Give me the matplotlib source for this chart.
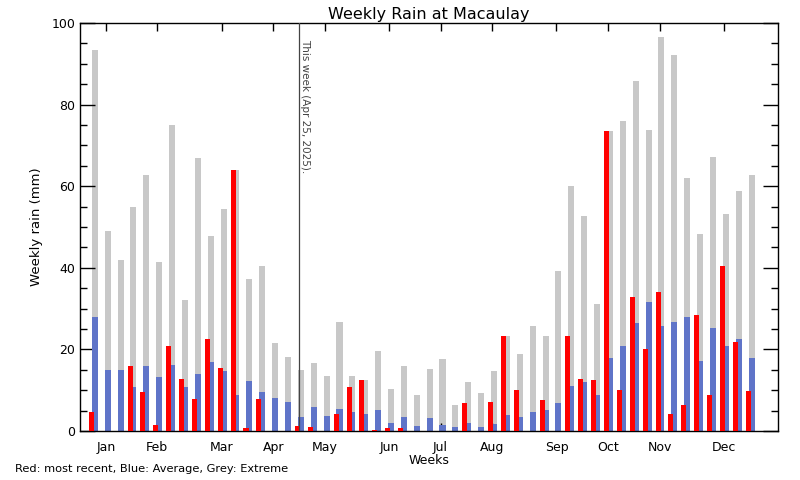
import numpy as np
import matplotlib
matplotlib.use("Agg")
import matplotlib.pyplot as plt

# --- Data ---
weeks = np.arange(1, 53)

extreme = [93.5, 49.1, 41.9, 54.9, 62.8, 41.5, 75.1, 32.1, 67.0, 47.8,
           54.5, 64.0, 37.3, 40.5, 21.6, 18.2, 15.0, 16.7, 13.5, 26.7,
           13.5, 12.5, 19.6, 10.3, 15.9, 8.8, 15.2, 17.7, 6.4, 12.0,
           9.3, 14.7, 23.3, 18.9, 25.8, 23.3, 39.2, 60.1, 52.7, 31.2,
           73.6, 76.0, 85.9, 73.8, 96.6, 92.2, 62.1, 48.3, 67.2, 53.2,
           58.9, 62.8]

average = [28.0, 15.0, 15.0, 10.8, 15.9, 13.2, 16.2, 10.8, 14.0, 16.9,
           14.7, 8.8, 12.3, 9.6, 8.1, 7.1, 3.4, 5.9, 3.7, 5.4,
           4.7, 4.2, 5.2, 2.0, 3.4, 1.2, 3.2, 1.5, 1.0, 2.0,
           1.0, 1.7, 3.9, 3.4, 4.7, 5.2, 6.9, 11.0, 12.0, 8.8,
           17.9, 20.9, 26.5, 31.6, 25.8, 26.7, 28.0, 17.2, 25.3, 20.9,
           22.6, 17.9]

recent = [4.7, 0.0, 0.0, 15.9, 9.6, 1.5, 20.9, 12.8, 7.8, 22.6,
          15.5, 64.0, 0.7, 7.8, 0.0, 0.0, 1.2, 1.0, 0.0, 4.2,
          10.8, 12.5, 0.2, 0.7, 0.7, 0.0, 0.0, 0.0, 0.0, 6.9,
          0.0, 7.1, 23.3, 10.1, 0.0, 7.6, 0.0, 23.3, 12.8, 12.5,
          73.6, 10.1, 32.9, 20.1, 34.1, 4.2, 6.4, 28.5, 8.8, 40.5,
          21.8, 9.8]

month_labels = ["Jan", "Feb", "Mar", "Apr", "May", "Jun",
                "Jul", "Aug", "Sep", "Oct", "Nov", "Dec"]
month_weeks = [2, 6, 11, 15, 19, 24, 28, 32, 37, 41, 45, 50]

this_week = 17
this_week_label = "This week (Apr 25, 2025)."

# --- Colours ---
color_grey = "#C8C8C8"
color_blue = "#5F74C8"
color_red = "#FF0000"

# --- Figure ---
fig = plt.figure(figsize=(8, 4.8), dpi=100)
ax = fig.add_axes([0.1, 0.102, 0.8725, 0.85])

ax.bar(weeks + 0.15, extreme, width=0.47, color=color_grey, zorder=1)
ax.bar(weeks + 0.15, average, width=0.47, color=color_blue, zorder=2)
ax.bar(weeks - 0.11, recent, width=0.39, color=color_red, zorder=3)

# this-week marker
ax.axvline(this_week, color="#444444", linewidth=0.9, zorder=4)
ax.text(this_week + 0.1, 96, this_week_label, rotation=-90,
        ha="left", va="top", fontsize=7.5, color="#444444")

# --- Axes ---
ax.set_xlim(0, 54.2)
ax.set_ylim(0, 100)

ax.set_xticks(month_weeks)
ax.set_xticklabels(month_labels, fontsize=9)
ax.set_yticks(np.arange(0, 101, 20))
ax.set_yticks(np.arange(0, 101, 5), minor=True)
ax.tick_params(axis="y", which="major", direction="in", length=11,
               left=True, right=True, labelsize=9, width=1)
ax.tick_params(axis="y", which="minor", direction="in", length=5,
               left=True, right=True, width=1)
ax.tick_params(axis="x", which="major", direction="in", length=6,
               top=True, bottom=True, labelsize=9, width=1, pad=7)

for side in ["top", "bottom", "left", "right"]:
    ax.spines[side].set_linewidth(1)

ax.set_title("Weekly Rain at Macaulay", fontsize=11.5, pad=3)
ax.set_ylabel("Weekly rain (mm)", fontsize=9.5, labelpad=6)
ax.set_xlabel("Weeks", fontsize=9, labelpad=0)

fig.text(15 / 800, 1 - 469 / 480, "Red: most recent, Blue: Average, Grey: Extreme",
         fontsize=8.2, ha="left", va="center")

fig.savefig("out.png", dpi=100)
